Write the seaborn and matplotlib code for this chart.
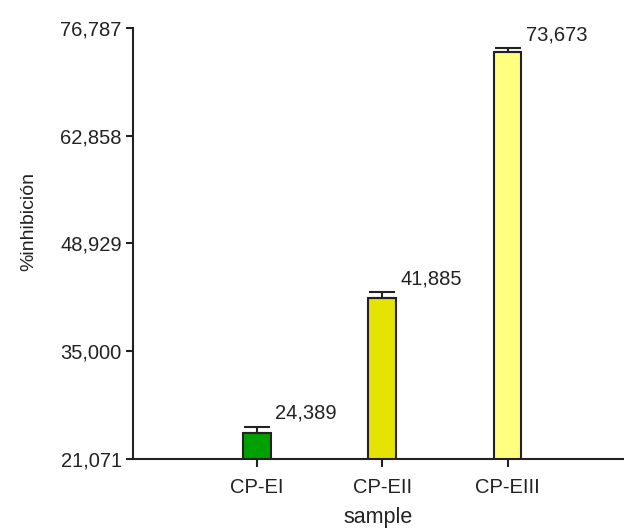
import matplotlib
matplotlib.use("Agg")
import matplotlib.pyplot as plt
import seaborn as sns
import pandas as pd

# Data
samples = ["CP-EI", "CP-EII", "CP-EIII"]
inhibition = [24.389, 41.885, 73.673]
errors = [0.8, 0.75, 0.5]
bar_colors = ["#00a000", "#e4e400", "#ffff80"]
value_labels = ["24,389", "41,885", "73,673"]
y_ticks = [21.071, 35.000, 48.929, 62.858, 76.787]
y_tick_labels = ["21,071", "35,000", "48,929", "62,858", "76,787"]

sns.set_theme(style="ticks")
plt.rcParams["font.family"] = ["Liberation Sans", "DejaVu Sans"]

df = pd.DataFrame({"sample": samples, "inhibition": inhibition})

fig = plt.figure(figsize=(6.24, 5.3), dpi=100)
ax = fig.add_axes([0.2131, 0.134, 0.787, 0.8132])

sns.barplot(data=df, x="sample", y="inhibition", hue="sample",
            palette=bar_colors, saturation=1, width=0.22,
            edgecolor="#222222", linewidth=1.5, legend=False, ax=ax,
            errorbar=None)

xpos = list(range(len(samples)))
ax.errorbar(xpos, inhibition, yerr=[[0] * len(errors), errors], fmt="none",
            ecolor="#222222", elinewidth=1.5, capsize=9.7, capthick=1.5,
            zorder=3)

for x, v, e, lab in zip(xpos, inhibition, errors, value_labels):
    ax.annotate(lab, xy=(x, v + e), xytext=(13, 3), textcoords="offset points",
                ha="left", va="bottom", fontsize=14.5, color="#222222")

ax.set_ylim(y_ticks[0], y_ticks[-1])
ax.set_xlim(-0.99, 2.93)
ax.set_yticks(y_ticks)
ax.set_yticklabels(y_tick_labels)

sns.despine(ax=ax)
for s in ["left", "bottom"]:
    ax.spines[s].set_color("#222222")
    ax.spines[s].set_linewidth(1.5)

ax.tick_params(axis="both", direction="out", length=5, width=1.5,
               color="#222222", labelsize=14.5, labelcolor="#222222")
ax.tick_params(axis="x", length=6, pad=8)
ax.tick_params(axis="y", pad=3)

ax.set_xlabel("sample", fontsize=15.5, color="#222222", labelpad=7)
ax.set_ylabel("%inhibición", fontsize=14, color="#222222")
ax.yaxis.set_label_coords(-0.195, 0.55)

fig.savefig("out.png", dpi=100)
